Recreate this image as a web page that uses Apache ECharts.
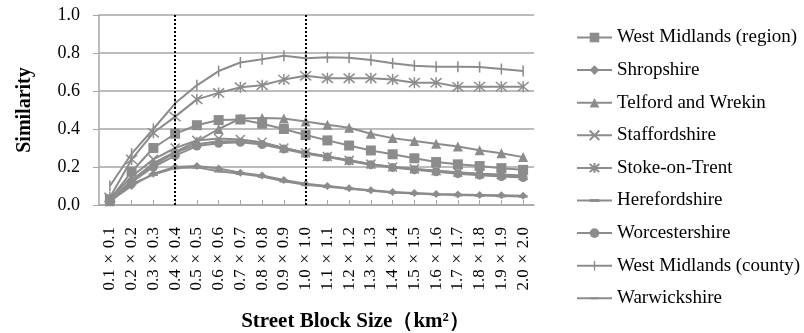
<!DOCTYPE html>
<html><head><meta charset="utf-8">
<script src="https://cdn.jsdelivr.net/npm/echarts@6/dist/echarts.min.js"></script>
<style>html,body{margin:0;padding:0;background:#fff}#c{width:804px;height:333px}</style>
</head><body><div id="c"></div>
<script>
const categories = ['0.1×0.1','0.2×0.2','0.3×0.3','0.4×0.4','0.5×0.5','0.6×0.6','0.7×0.7','0.8×0.8','0.9×0.9','1.0×1.0','1.1×1.1','1.2×1.2','1.3×1.3','1.4×1.4','1.5×1.5','1.6×1.6','1.7×1.7','1.8×1.8','1.9×1.9','2.0×2.0'];
const westMidlandsRegion = [0.03,0.175,0.30,0.375,0.42,0.447,0.45,0.428,0.40,0.368,0.34,0.313,0.287,0.267,0.246,0.226,0.214,0.205,0.194,0.185];
const shropshire = [0.02,0.10,0.165,0.20,0.205,0.192,0.17,0.155,0.132,0.112,0.10,0.088,0.077,0.069,0.063,0.058,0.055,0.053,0.051,0.049];
const telfordWrekin = [0.02,0.13,0.22,0.28,0.335,0.40,0.455,0.458,0.455,0.44,0.422,0.407,0.375,0.352,0.337,0.322,0.308,0.288,0.272,0.252];
const staffordshire = [0.03,0.15,0.24,0.30,0.34,0.35,0.345,0.33,0.30,0.275,0.255,0.235,0.215,0.2,0.19,0.18,0.172,0.165,0.16,0.155];
const stokeOnTrent = [0.04,0.24,0.38,0.465,0.556,0.59,0.62,0.63,0.66,0.68,0.667,0.667,0.667,0.66,0.644,0.644,0.622,0.623,0.623,0.623];
const herefordshire = [0.02,0.11,0.16,0.195,0.198,0.178,0.165,0.15,0.125,0.106,0.096,0.085,0.075,0.066,0.06,0.055,0.052,0.05,0.047,0.045];
const worcestershire = [0.02,0.12,0.20,0.26,0.31,0.325,0.33,0.318,0.295,0.27,0.252,0.232,0.212,0.197,0.185,0.175,0.165,0.157,0.15,0.145];
const westMidlandsCounty = [0.10,0.27,0.40,0.535,0.63,0.705,0.75,0.767,0.785,0.772,0.777,0.775,0.763,0.746,0.733,0.728,0.728,0.726,0.716,0.705];
const warwickshire = [0.02,0.13,0.21,0.275,0.32,0.335,0.335,0.322,0.3,0.275,0.255,0.236,0.215,0.2,0.19,0.18,0.17,0.163,0.156,0.15];
const yTicks = [0,0.2,0.4,0.6,0.8,1.0];

const gray = '#8c8c8c';
const font = 'Liberation Serif, Times New Roman, serif';
const xPath = 'path://M0,0L10,10M10,0L0,10';
const starPath = 'path://M0,0L10,10M10,0L0,10M5,-1L5,11';
const dashPath = 'path://M0,0M10,10M0,3.5L10,3.5L10,6.5L0,6.5Z';
const thinDashPath = 'path://M0,0M10,10M1,4L9,4L9,6L1,6Z';
const tickPath = 'path://M0,0M10,10M4.3,0L5.7,0L5.7,10L4.3,10Z';

function mk(name, data, symbol, size, stroke) {
  return {
    name, type: 'line', data, symbol, symbolSize: size,
    lineStyle: {color: gray, width: 2},
    itemStyle: stroke ? {color: gray, borderColor: gray, borderWidth: 1.5} : {color: gray, borderWidth: 0},
    emphasis: {disabled: true}, animation: false, z: 3
  };
}
const series = [
  mk('West Midlands (region)', westMidlandsRegion, 'rect', 10),
  mk('Shropshire', shropshire, 'diamond', 8),
  mk('Telford and Wrekin', telfordWrekin, 'triangle', 10),
  mk('Staffordshire', staffordshire, xPath, 9, true),
  mk('Stoke-on-Trent', stokeOnTrent, starPath, 11, true),
  mk('Herefordshire', herefordshire, dashPath, 9),
  mk('Worcestershire', worcestershire, 'circle', 9),
  mk('West Midlands (county)', westMidlandsCounty, tickPath, 11),
  mk('Warwickshire', warwickshire, thinDashPath, 8)
];
series[0].markLine = {
  silent: true, symbol: 'none', label: {show: false},
  lineStyle: {color: '#000', type: [2,2], width: 2},
  data: [{xAxis: categories[3]}, {xAxis: categories[9]}]
};

const chart = echarts.init(document.getElementById('c'), null, {renderer: 'canvas'});
chart.setOption({
  animation: false,
  backgroundColor: '#fff',
  grid: {left: 99, right: 270, top: 15, bottom: 128, containLabel: false, outerBoundsMode: 'none'},
  legend: {
    orient: 'vertical', left: 576, top: 28, padding: 0, itemGap: 13.6, itemWidth: 35, itemHeight: 12,
    textStyle: {fontFamily: font, fontSize: 19, lineHeight: 18, color: '#000'},
    data: series.map(s => s.name)
  },
  xAxis: {
    type: 'category', data: categories, boundaryGap: true,
    axisLine: {lineStyle: {color: '#a6a6a6', width: 1.5}},
    axisTick: {show: true, inside: true, length: 5, alignWithLabel: true, lineStyle: {color: '#a6a6a6'}},
    axisLabel: {rotate: 90, interval: 0, margin: 22, fontFamily: font, fontSize: 17, color: '#000',
      formatter: v => v.replace('×', '\u2004×\u2004')},
    name: 'Street Block Size（km²）', nameLocation: 'middle', nameGap: 106,
    nameTextStyle: {fontFamily: font, fontSize: 21, fontWeight: 'bold', color: '#000', padding: [0,0,0,78]}
  },
  yAxis: {
    type: 'value', min: yTicks[0], max: yTicks[yTicks.length-1], interval: 0.2,
    axisLine: {show: true, lineStyle: {color: '#a6a6a6', width: 1.5}},
    axisTick: {show: true, length: 6, lineStyle: {color: '#a6a6a6'}},
    splitLine: {lineStyle: {color: '#a6a6a6', width: 1.5}},
    axisLabel: {fontFamily: font, fontSize: 18, color: '#000', margin: 19, formatter: v => v.toFixed(1)},
    name: 'Similarity', nameLocation: 'middle', nameGap: 64, nameRotate: 90,
    nameTextStyle: {fontFamily: font, fontSize: 20, fontWeight: 'bold', color: '#000'}
  },
  series
});
</script></body></html>
